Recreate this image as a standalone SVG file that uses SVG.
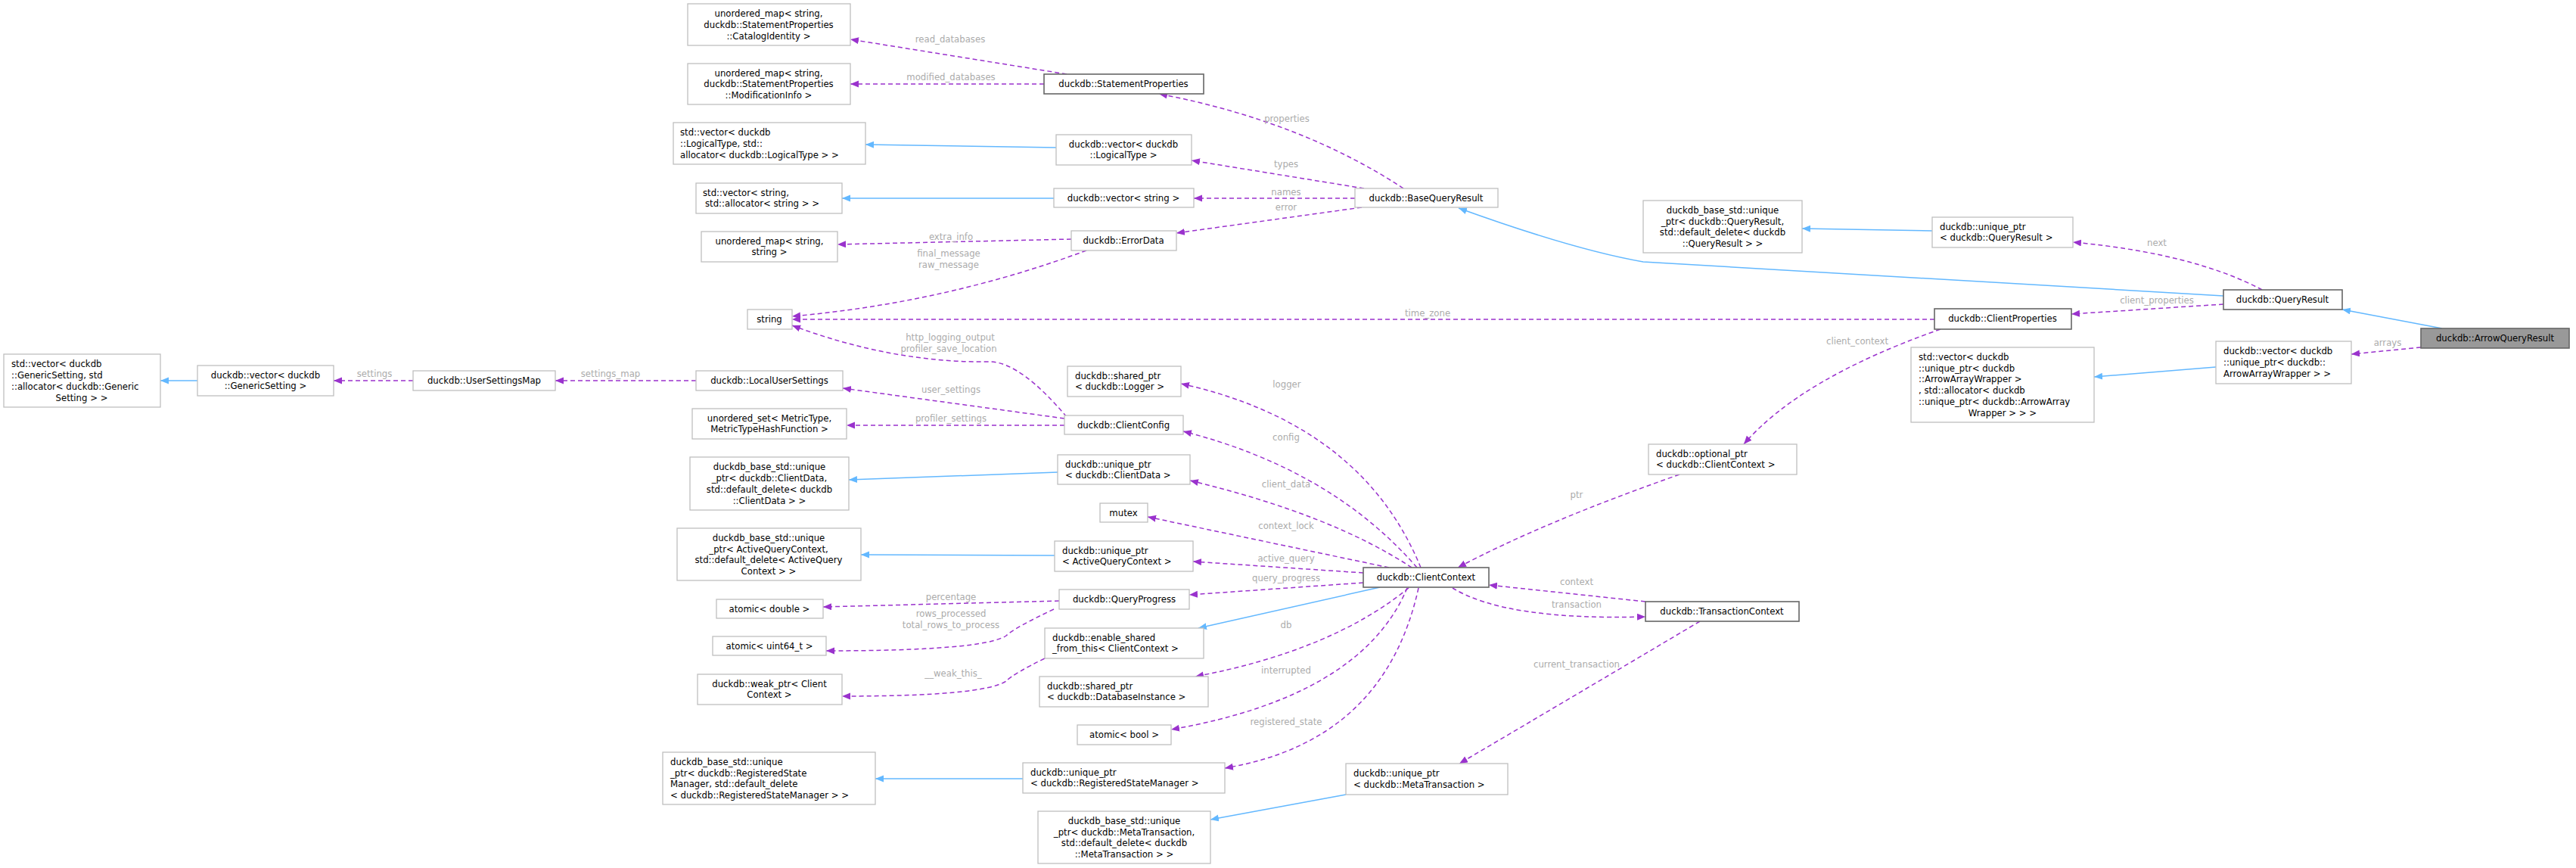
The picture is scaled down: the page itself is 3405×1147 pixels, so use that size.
<svg xmlns="http://www.w3.org/2000/svg" width="3405" height="1147" viewBox="0 0 3405 1147">
<style>
.n rect{fill:#fff;stroke:#bfbfbf;stroke-width:1.3}
.n.d rect{stroke:#666;stroke-width:1.6}
.n.s rect{fill:#999;stroke:#666;stroke-width:1.6}
text{font-family:"DejaVu Sans Condensed","DejaVu Sans",sans-serif;font-size:13px;fill:#000}
.c{text-anchor:middle}
.l{font-size:13px;fill:#ababab;text-anchor:middle}
.u{fill:none;stroke:#9a32cd;stroke-width:1.5;stroke-dasharray:6,4}
.i{fill:none;stroke:#63b8ff;stroke-width:1.5}
</style>
<defs>
<marker id="mp" markerUnits="userSpaceOnUse" markerWidth="12" markerHeight="10" refX="11" refY="4.5" orient="auto"><path d="M0,0L11,4.5L0,9z" fill="#9a32cd"/></marker>
<marker id="mb" markerUnits="userSpaceOnUse" markerWidth="12" markerHeight="10" refX="11" refY="4.5" orient="auto"><path d="M0,0L11,4.5L0,9z" fill="#63b8ff"/></marker>
</defs>
<g id="edges">
<path class="u" marker-end="url(#mp)" d="M1410,98L1124,52"/>
<path class="u" marker-end="url(#mp)" d="M1380,111L1124,111"/>
<path class="i" marker-end="url(#mb)" d="M1396,195L1144,191"/>
<path class="i" marker-end="url(#mb)" d="M1393,262L1113,262"/>
<path class="u" marker-end="url(#mp)" d="M1416,316L1107,323"/>
<path class="u" marker-end="url(#mp)" d="M1436,331Q1250,400 1047,418"/>
<path class="u" marker-end="url(#mp)" d="M1855,249Q1720,160 1532,124"/>
<path class="u" marker-end="url(#mp)" d="M1803,249L1575,212"/>
<path class="u" marker-end="url(#mp)" d="M1791,262L1578,262"/>
<path class="u" marker-end="url(#mp)" d="M1800,274L1555,308"/>
<path class="i" marker-end="url(#mb)" d="M2939,391L2172,346Q2080,330 1928,275"/>
<path class="i" marker-end="url(#mb)" d="M2554,305L2382,302"/>
<path class="u" marker-end="url(#mp)" d="M2990,383Q2900,335 2740,320"/>
<path class="u" marker-end="url(#mp)" d="M2939,402L2738,415"/>
<path class="u" marker-end="url(#mp)" d="M2557,422L1047,422"/>
<path class="i" marker-end="url(#mb)" d="M3228,434L3096,409"/>
<path class="u" marker-end="url(#mp)" d="M3200,459L3108,468"/>
<path class="i" marker-end="url(#mb)" d="M2929,485L2768,498"/>
<path class="u" marker-end="url(#mp)" d="M2565,435Q2380,500 2305,587"/>
<path class="u" marker-end="url(#mp)" d="M2220,627Q2040,690 1927,750"/>
<path class="u" marker-end="url(#mp)" d="M2175,795L1968,773"/>
<path class="u" marker-end="url(#mp)" d="M1920,777Q1990,820 2175,815"/>
<path class="u" marker-end="url(#mp)" d="M2247,821Q2080,920 1929,1009"/>
<path class="i" marker-end="url(#mb)" d="M1779,1050L1600,1083"/>
<path class="u" marker-end="url(#mp)" d="M1878,750Q1800,560 1561,507"/>
<path class="u" marker-end="url(#mp)" d="M1873,750Q1760,620 1564,570"/>
<path class="u" marker-end="url(#mp)" d="M1866,750Q1760,680 1573,635"/>
<path class="u" marker-end="url(#mp)" d="M1836,750L1517,683"/>
<path class="u" marker-end="url(#mp)" d="M1802,757L1577,742"/>
<path class="u" marker-end="url(#mp)" d="M1802,770L1572,786"/>
<path class="i" marker-end="url(#mb)" d="M1824,776L1584,830"/>
<path class="u" marker-end="url(#mp)" d="M1862,777Q1760,860 1580,894"/>
<path class="u" marker-end="url(#mp)" d="M1860,777Q1800,920 1548,964"/>
<path class="u" marker-end="url(#mp)" d="M1875,777Q1830,980 1619,1015"/>
<path class="i" marker-end="url(#mb)" d="M1398,624L1122,634"/>
<path class="i" marker-end="url(#mb)" d="M1394,734L1138,733"/>
<path class="i" marker-end="url(#mb)" d="M1352,1029L1157,1029"/>
<path class="u" marker-end="url(#mp)" d="M1400,794L1088,802"/>
<path class="u" marker-end="url(#mp)" d="M1393,805Q1340,830 1330,840Q1300,860 1092,860"/>
<path class="u" marker-end="url(#mp)" d="M1381,870Q1340,890 1330,900Q1300,920 1113,920"/>
<path class="u" marker-end="url(#mp)" d="M1410,551Q1350,480 1310,478Q1180,480 1047,430"/>
<path class="u" marker-end="url(#mp)" d="M1407,553L1114,513"/>
<path class="u" marker-end="url(#mp)" d="M1407,562L1119,562"/>
<path class="u" marker-end="url(#mp)" d="M920,503L734,503"/>
<path class="u" marker-end="url(#mp)" d="M546,503L441,503"/>
<path class="i" marker-end="url(#mb)" d="M261,503L212,503"/>
</g>
<g id="labels">
<text class="l" x="1256" y="56">read_databases</text>
<text class="l" x="1257" y="106">modified_databases</text>
<text class="l" x="1257" y="317">extra_info</text>
<text class="l" x="1254" y="339">final_message</text>
<text class="l" x="1254" y="354">raw_message</text>
<text class="l" x="1701" y="161">properties</text>
<text class="l" x="1700" y="221">types</text>
<text class="l" x="1700" y="258">names</text>
<text class="l" x="1700" y="278">error</text>
<text class="l" x="2851" y="325">next</text>
<text class="l" x="2851" y="401">client_properties</text>
<text class="l" x="1887" y="418">time_zone</text>
<text class="l" x="3156" y="457">arrays</text>
<text class="l" x="2455" y="455">client_context</text>
<text class="l" x="2084" y="658">ptr</text>
<text class="l" x="2084" y="773">context</text>
<text class="l" x="2084" y="803">transaction</text>
<text class="l" x="2084" y="882">current_transaction</text>
<text class="l" x="1701" y="512">logger</text>
<text class="l" x="1700" y="582">config</text>
<text class="l" x="1700" y="644">client_data</text>
<text class="l" x="1700" y="699">context_lock</text>
<text class="l" x="1700" y="742">active_query</text>
<text class="l" x="1700" y="768">query_progress</text>
<text class="l" x="1700" y="830">db</text>
<text class="l" x="1700" y="890">interrupted</text>
<text class="l" x="1700" y="958">registered_state</text>
<text class="l" x="1257" y="793">percentage</text>
<text class="l" x="1257" y="815">rows_processed</text>
<text class="l" x="1257" y="830">total_rows_to_process</text>
<text class="l" x="1260" y="894">__weak_this_</text>
<text class="l" x="1256" y="450">http_logging_output</text>
<text class="l" x="1254" y="465">profiler_save_location</text>
<text class="l" x="1257" y="519">user_settings</text>
<text class="l" x="1257" y="557">profiler_settings</text>
<text class="l" x="807" y="498">settings_map</text>
<text class="l" x="495" y="498">settings</text>
</g>
<g id="n1" class="n"><rect x="909" y="5" width="215" height="55"/><text class="c" x="1016" y="22">unordered_map&lt; string,</text><text class="c" x="1016" y="37">duckdb::StatementProperties</text><text class="c" x="1016" y="52">::CatalogIdentity &gt;</text></g>
<g id="n2" class="n"><rect x="909" y="84" width="215" height="54"/><text class="c" x="1016" y="101">unordered_map&lt; string,</text><text class="c" x="1016" y="115">duckdb::StatementProperties</text><text class="c" x="1016" y="130">::ModificationInfo &gt;</text></g>
<g id="n3" class="n"><rect x="890" y="162" width="254" height="55"/><text x="899" y="179">std::vector&lt; duckdb</text><text x="899" y="194">::LogicalType, std::</text><text x="899" y="209">allocator&lt; duckdb::LogicalType &gt; &gt;</text></g>
<g id="n4" class="n"><rect x="920" y="242" width="193" height="40"/><text x="929" y="259">std::vector&lt; string,</text><text x="932" y="273">std::allocator&lt; string &gt; &gt;</text></g>
<g id="n5" class="n"><rect x="927" y="306" width="180" height="40"/><text class="c" x="1017" y="323">unordered_map&lt; string,</text><text class="c" x="1017" y="337">string &gt;</text></g>
<g id="n6" class="n"><rect x="988" y="409" width="59" height="26"/><text class="c" x="1017" y="426">string</text></g>
<g id="n7" class="n"><rect x="5" y="468" width="207" height="70"/><text x="15" y="485">std::vector&lt; duckdb</text><text x="15" y="500">::GenericSetting, std</text><text x="15" y="515">::allocator&lt; duckdb::Generic</text><text class="c" x="108" y="530">Setting &gt; &gt;</text></g>
<g id="n8" class="n"><rect x="261" y="483" width="180" height="40"/><text class="c" x="351" y="500">duckdb::vector&lt; duckdb</text><text class="c" x="351" y="514">::GenericSetting &gt;</text></g>
<g id="n9" class="n"><rect x="546" y="490" width="188" height="26"/><text class="c" x="640" y="507">duckdb::UserSettingsMap</text></g>
<g id="n10" class="n"><rect x="920" y="490" width="194" height="26"/><text class="c" x="1017" y="507">duckdb::LocalUserSettings</text></g>
<g id="n11" class="n"><rect x="915" y="540" width="204" height="40"/><text class="c" x="1017" y="557">unordered_set&lt; MetricType,</text><text class="c" x="1017" y="571">MetricTypeHashFunction &gt;</text></g>
<g id="n12" class="n"><rect x="912" y="604" width="210" height="70"/><text class="c" x="1017" y="621">duckdb_base_std::unique</text><text class="c" x="1017" y="636">_ptr&lt; duckdb::ClientData,</text><text class="c" x="1017" y="651">std::default_delete&lt; duckdb</text><text class="c" x="1017" y="666">::ClientData &gt; &gt;</text></g>
<g id="n13" class="n"><rect x="895" y="698" width="243" height="69"/><text class="c" x="1016" y="715">duckdb_base_std::unique</text><text class="c" x="1016" y="730">_ptr&lt; ActiveQueryContext,</text><text class="c" x="1016" y="744">std::default_delete&lt; ActiveQuery</text><text class="c" x="1016" y="759">Context &gt; &gt;</text></g>
<g id="n14" class="n"><rect x="947" y="792" width="141" height="25"/><text class="c" x="1017" y="809">atomic&lt; double &gt;</text></g>
<g id="n15" class="n"><rect x="942" y="841" width="150" height="25"/><text class="c" x="1017" y="858">atomic&lt; uint64_t &gt;</text></g>
<g id="n16" class="n"><rect x="922" y="891" width="191" height="40"/><text class="c" x="1017" y="908">duckdb::weak_ptr&lt; Client</text><text class="c" x="1017" y="922">Context &gt;</text></g>
<g id="n17" class="n"><rect x="876" y="994" width="281" height="69"/><text x="886" y="1011">duckdb_base_std::unique</text><text x="886" y="1026">_ptr&lt; duckdb::RegisteredState</text><text x="886" y="1040">Manager, std::default_delete</text><text x="886" y="1055">&lt; duckdb::RegisteredStateManager &gt; &gt;</text></g>
<g id="n18" class="n d"><rect x="1380" y="98" width="211" height="26"/><text class="c" x="1485" y="115">duckdb::StatementProperties</text></g>
<g id="n19" class="n"><rect x="1396" y="178" width="179" height="40"/><text class="c" x="1485" y="195">duckdb::vector&lt; duckdb</text><text class="c" x="1485" y="209">::LogicalType &gt;</text></g>
<g id="n20" class="n"><rect x="1393" y="249" width="185" height="25"/><text class="c" x="1485" y="266">duckdb::vector&lt; string &gt;</text></g>
<g id="n21" class="n"><rect x="1416" y="305" width="139" height="26"/><text class="c" x="1485" y="322">duckdb::ErrorData</text></g>
<g id="n22" class="n"><rect x="1411" y="484" width="150" height="40"/><text x="1421" y="501">duckdb::shared_ptr</text><text x="1421" y="515">&lt; duckdb::Logger &gt;</text></g>
<g id="n23" class="n"><rect x="1407" y="549" width="157" height="25"/><text class="c" x="1485" y="566">duckdb::ClientConfig</text></g>
<g id="n24" class="n"><rect x="1398" y="601" width="175" height="39"/><text x="1408" y="618">duckdb::unique_ptr</text><text x="1408" y="632">&lt; duckdb::ClientData &gt;</text></g>
<g id="n25" class="n"><rect x="1454" y="665" width="63" height="25"/><text class="c" x="1485" y="682">mutex</text></g>
<g id="n26" class="n"><rect x="1394" y="715" width="183" height="40"/><text x="1404" y="732">duckdb::unique_ptr</text><text x="1404" y="746">&lt; ActiveQueryContext &gt;</text></g>
<g id="n27" class="n"><rect x="1400" y="779" width="172" height="26"/><text class="c" x="1486" y="796">duckdb::QueryProgress</text></g>
<g id="n28" class="n"><rect x="1381" y="830" width="210" height="40"/><text x="1391" y="847">duckdb::enable_shared</text><text x="1391" y="861">_from_this&lt; ClientContext &gt;</text></g>
<g id="n29" class="n"><rect x="1374" y="894" width="223" height="40"/><text x="1384" y="911">duckdb::shared_ptr</text><text x="1384" y="925">&lt; duckdb::DatabaseInstance &gt;</text></g>
<g id="n30" class="n"><rect x="1424" y="958" width="124" height="26"/><text class="c" x="1486" y="975">atomic&lt; bool &gt;</text></g>
<g id="n31" class="n"><rect x="1352" y="1008" width="267" height="40"/><text x="1362" y="1025">duckdb::unique_ptr</text><text x="1362" y="1039">&lt; duckdb::RegisteredStateManager &gt;</text></g>
<g id="n32" class="n"><rect x="1791" y="249" width="189" height="25"/><text class="c" x="1885" y="266">duckdb::BaseQueryResult</text></g>
<g id="n33" class="n d"><rect x="1802" y="750" width="166" height="26"/><text class="c" x="1885" y="767">duckdb::ClientContext</text></g>
<g id="n34" class="n"><rect x="1779" y="1009" width="214" height="41"/><text x="1789" y="1026">duckdb::unique_ptr</text><text x="1789" y="1041">&lt; duckdb::MetaTransaction &gt;</text></g>
<g id="n35" class="n"><rect x="1372" y="1072" width="228" height="69"/><text class="c" x="1486" y="1089">duckdb_base_std::unique</text><text class="c" x="1486" y="1104">_ptr&lt; duckdb::MetaTransaction,</text><text class="c" x="1486" y="1118">std::default_delete&lt; duckdb</text><text class="c" x="1486" y="1133">::MetaTransaction &gt; &gt;</text></g>
<g id="n36" class="n"><rect x="2172" y="265" width="210" height="69"/><text class="c" x="2277" y="282">duckdb_base_std::unique</text><text class="c" x="2277" y="297">_ptr&lt; duckdb::QueryResult,</text><text class="c" x="2277" y="311">std::default_delete&lt; duckdb</text><text class="c" x="2277" y="326">::QueryResult &gt; &gt;</text></g>
<g id="n37" class="n"><rect x="2179" y="587" width="196" height="40"/><text x="2189" y="604">duckdb::optional_ptr</text><text x="2189" y="618">&lt; duckdb::ClientContext &gt;</text></g>
<g id="n38" class="n d"><rect x="2175" y="795" width="203" height="26"/><text class="c" x="2276" y="812">duckdb::TransactionContext</text></g>
<g id="n39" class="n"><rect x="2554" y="287" width="186" height="40"/><text x="2564" y="304">duckdb::unique_ptr</text><text x="2564" y="318">&lt; duckdb::QueryResult &gt;</text></g>
<g id="n40" class="n d"><rect x="2939" y="383" width="157" height="26"/><text class="c" x="3017" y="400">duckdb::QueryResult</text></g>
<g id="n41" class="n d"><rect x="2557" y="408" width="181" height="27"/><text class="c" x="2647" y="425">duckdb::ClientProperties</text></g>
<g id="n42" class="n"><rect x="2526" y="459" width="242" height="99"/><text x="2536" y="476">std::vector&lt; duckdb</text><text x="2536" y="491">::unique_ptr&lt; duckdb</text><text x="2536" y="505">::ArrowArrayWrapper &gt;</text><text x="2536" y="520">, std::allocator&lt; duckdb</text><text x="2536" y="535">::unique_ptr&lt; duckdb::ArrowArray</text><text class="c" x="2647" y="550">Wrapper &gt; &gt; &gt;</text></g>
<g id="n43" class="n"><rect x="2929" y="451" width="179" height="56"/><text x="2939" y="468">duckdb::vector&lt; duckdb</text><text x="2939" y="483">::unique_ptr&lt; duckdb::</text><text x="2939" y="498">ArrowArrayWrapper &gt; &gt;</text></g>
<g id="n44" class="n s"><rect x="3200" y="434" width="196" height="26"/><text class="c" x="3298" y="451">duckdb::ArrowQueryResult</text></g>
</svg>
